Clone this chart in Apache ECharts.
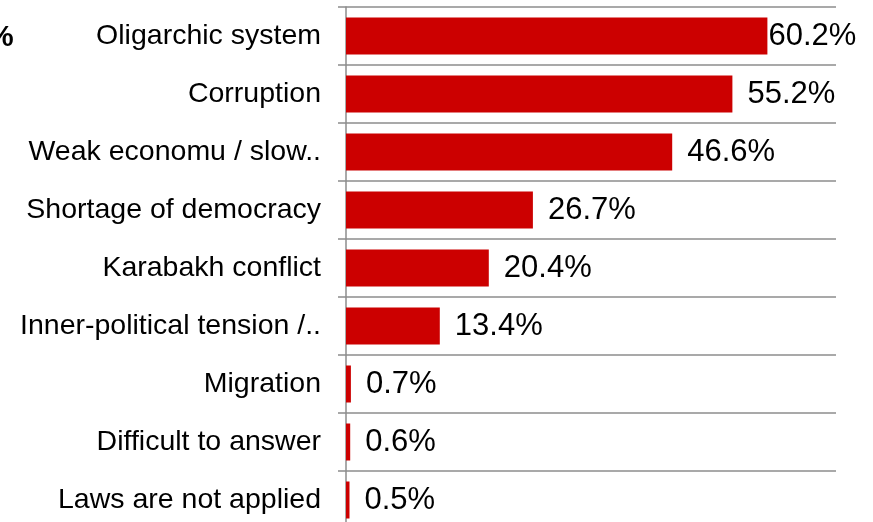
<!DOCTYPE html>
<html>
<head>
<meta charset="utf-8">
<script src="https://cdn.jsdelivr.net/npm/echarts@6/dist/echarts.min.js"></script>
<style>
  html, body { margin: 0; padding: 0; background: #ffffff; overflow: hidden; }
  #chart { width: 873px; height: 540px; }
</style>
</head>
<body>
<div id="chart"></div>
<script>
// categories top to bottom, values in %
var categories = [
  'Oligarchic system',
  'Corruption',
  'Weak economu / slow..',
  'Shortage of democracy',
  'Karabakh conflict',
  'Inner-political tension /..',
  'Migration',
  'Difficult to answer',
  'Laws are not applied'
];
var values = [60.2, 55.2, 46.6, 26.7, 20.4, 13.4, 0.7, 0.6, 0.5];

var font = "'Liberation Sans', Arial, sans-serif";
var gridColor = '#8c8c8c';

// chart is a bit taller than the window, the last row gets cut off like in the original
var chart = echarts.init(document.getElementById('chart'));

// first label sits right against its bar, the others have a gap
var barData = values.map(function (v, i) {
  return { value: v, label: { distance: i === 0 ? 1 : 15 } };
});

chart.setOption({
  animation: false,
  backgroundColor: '#ffffff',
  graphic: [{
    type: 'text',
    x: -13,
    y: 23,
    style: { text: '%', font: 'bold 30px ' + font, fill: '#000' }
  }],
  grid: {
    left: 346,
    right: 37,
    top: 7,
    height: 522,
    containLabel: false
  },
  xAxis: {
    type: 'value',
    min: 0,
    max: 70,
    show: false
  },
  yAxis: {
    type: 'category',
    data: categories,
    inverse: true,
    axisLine: { show: true, lineStyle: { color: gridColor, width: 1.5 } },
    axisTick: { show: true, length: 8, lineStyle: { color: gridColor, width: 1.5 } },
    splitLine: { show: true, lineStyle: { color: gridColor, width: 1.5 } },
    axisLabel: {
      margin: 25,
      fontSize: 28.5,
      color: '#000',
      fontFamily: font
    }
  },
  series: [{
    type: 'bar',
    data: barData,
    barWidth: 37,
    itemStyle: { color: '#cc0000' },
    label: {
      show: true,
      position: 'right',
      fontSize: 31,
      color: '#000',
      fontFamily: font,
      formatter: function (p) { return p.value.toFixed(1) + '%'; }
    }
  }]
});
</script>
</body>
</html>
